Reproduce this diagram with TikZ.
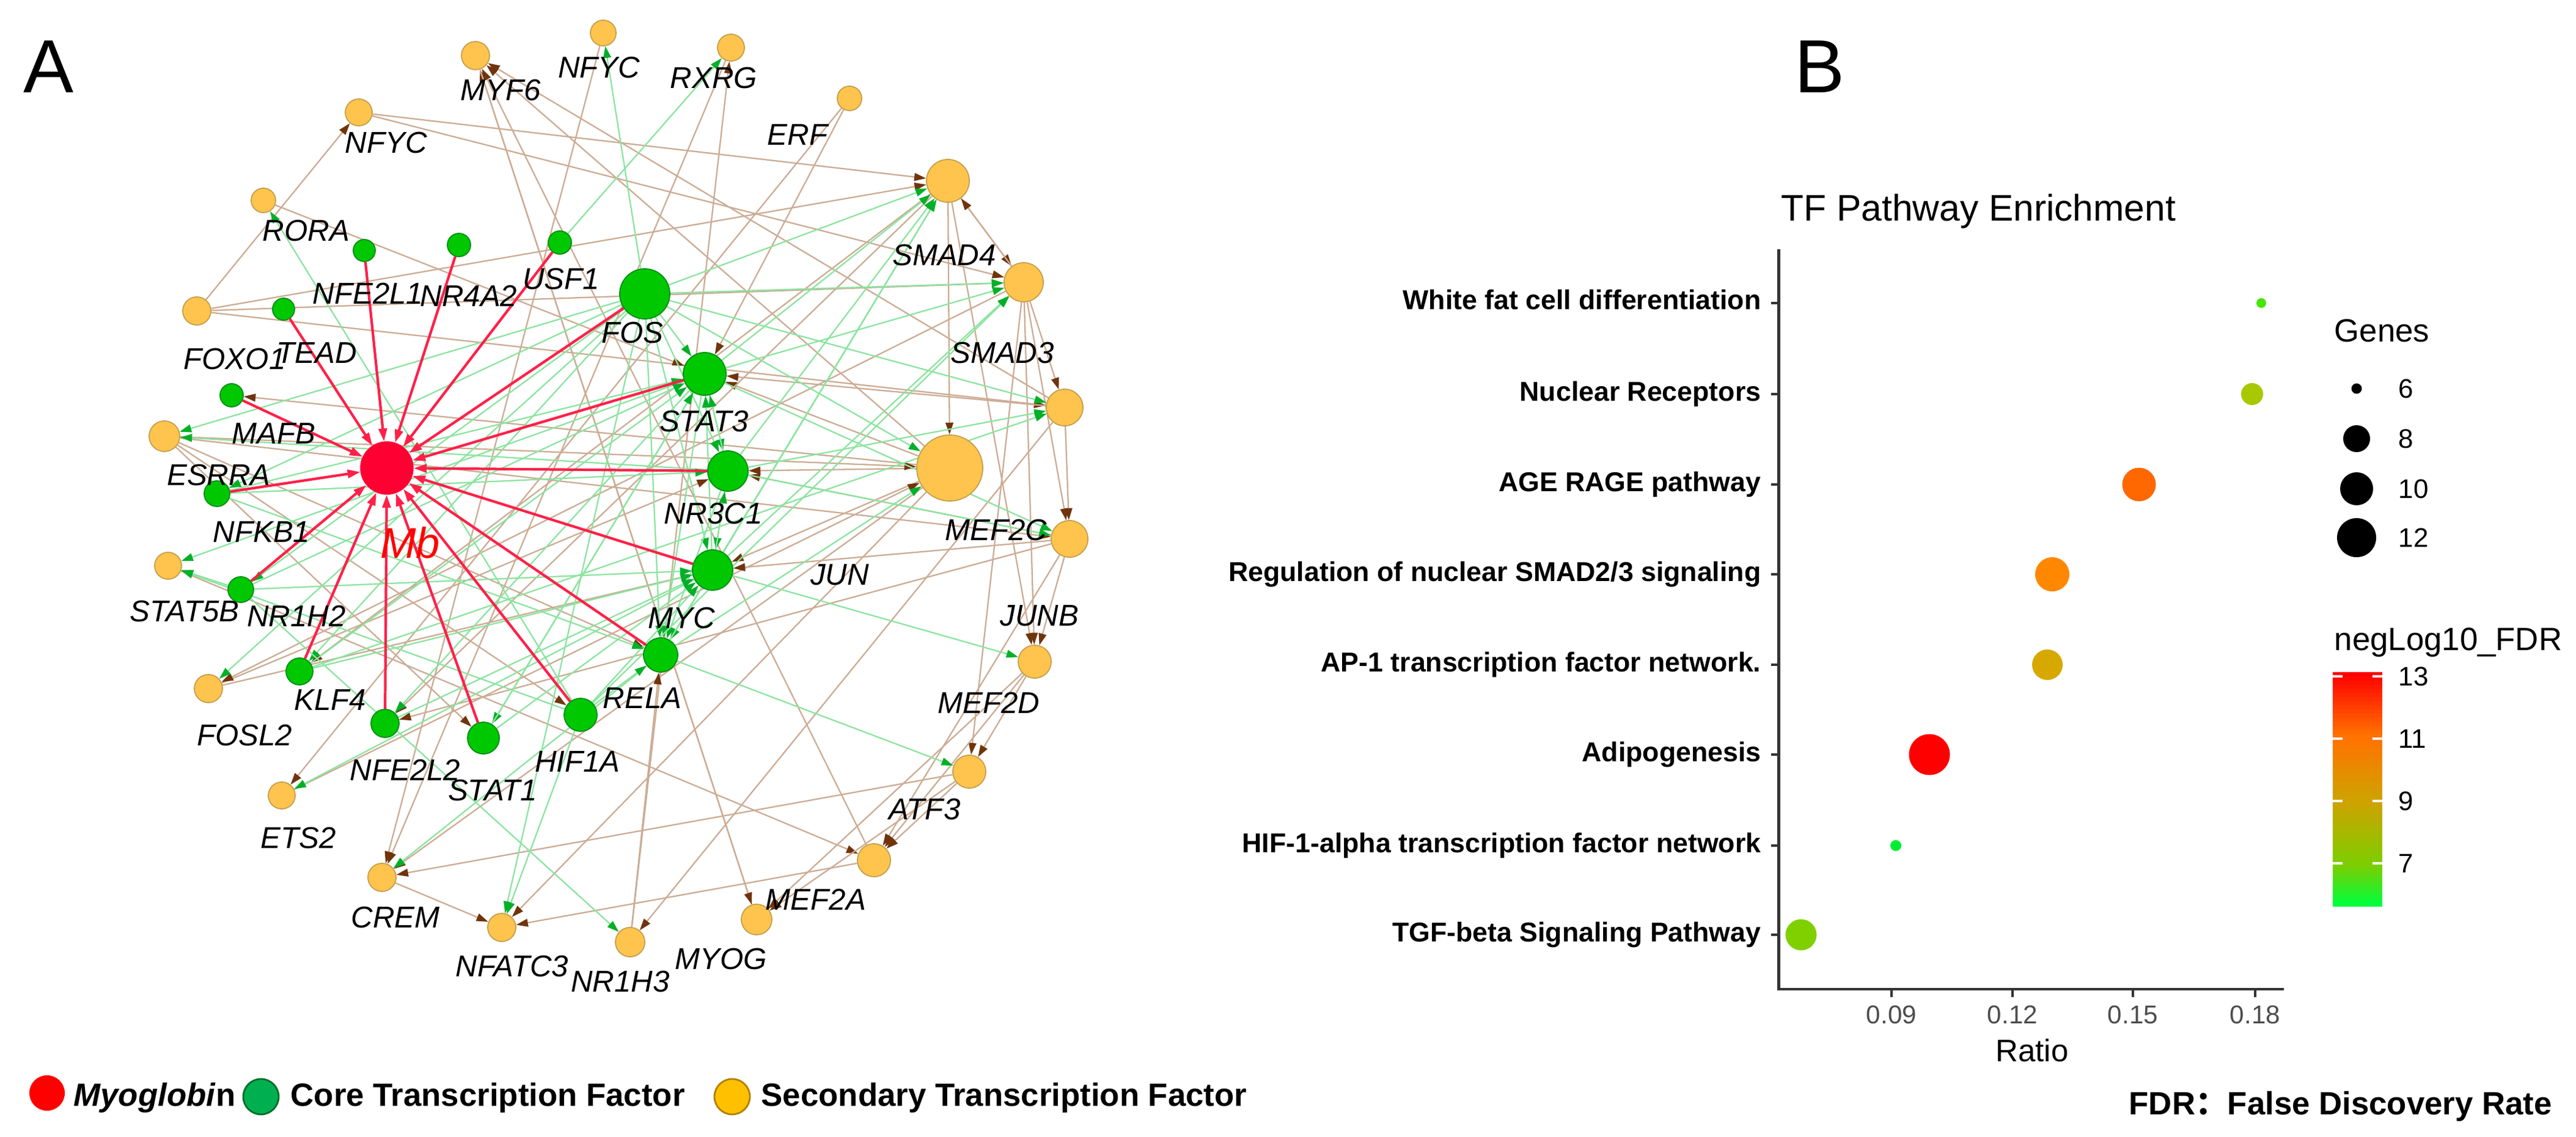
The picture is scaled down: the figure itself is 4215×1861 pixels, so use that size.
\documentclass[tikz,border=0pt]{standalone}
\usepackage{fontspec}
\setmainfont{Liberation Sans}
\newfontfamily\cjk{Noto Sans CJK SC}
\usetikzlibrary{arrows.meta,backgrounds}
\definecolor{ofill}{RGB}{255,196,77}
\definecolor{oborder}{RGB}{196,158,74}
\definecolor{gfill}{RGB}{0,200,0}
\definecolor{gborder}{RGB}{0,140,20}
\definecolor{mbred}{RGB}{255,0,51}
\definecolor{ebrown}{RGB}{204,172,148}
\definecolor{tbrown}{RGB}{112,52,12}
\definecolor{egreen}{RGB}{140,228,160}
\definecolor{tgreen}{RGB}{0,176,40}
\definecolor{ered}{RGB}{255,32,72}
\definecolor{axisgrey}{RGB}{51,51,51}
\definecolor{tickgrey}{RGB}{77,77,77}
\definecolor{legred}{RGB}{255,0,0}
\definecolor{leggreen}{RGB}{0,176,80}
\definecolor{leggreenb}{RGB}{0,110,40}
\definecolor{legyel}{RGB}{255,192,0}
\definecolor{legyelb}{RGB}{176,128,0}
\definecolor{cbA}{RGB}{255,0,0}
\definecolor{cbB}{RGB}{255,115,0}
\definecolor{cbC}{RGB}{207,162,0}
\definecolor{cbD}{RGB}{128,204,0}
\definecolor{cbE}{RGB}{0,255,60}
\definecolor{dwf}{RGB}{70,230,0}
\definecolor{dnr}{RGB}{168,200,0}
\definecolor{dage}{RGB}{255,104,0}
\definecolor{dsmad}{RGB}{255,136,0}
\definecolor{dap}{RGB}{214,168,0}
\definecolor{dadi}{RGB}{255,0,0}
\definecolor{dhif}{RGB}{0,238,50}
\definecolor{dtgf}{RGB}{128,208,0}
\newcommand{\cbseg}[4]{%
  \foreach \i in {0,...,15}{%
    \pgfmathtruncatemacro{\cbp}{100-\i*100/15}%
    \pgfmathsetmacro{\cbya}{#1+(#2-#1)*\i/16}%
    \pgfmathsetmacro{\cbyb}{#1+(#2-#1)*(\i+1)/16+1}%
    \fill[#3!\cbp!#4] (3817,\cbya) rectangle (3898,\cbyb);%
  }}
\begin{document}
\begin{tikzpicture}[x=0.01cm,y=-0.01cm,
  gn/.style={circle, inner sep=0pt, minimum size={#1*0.2mm}, fill=gfill, draw=gborder, line width=0.5pt},
  on/.style={circle, inner sep=0pt, minimum size={#1*0.2mm}, fill=ofill, draw=oborder, line width=0.5pt},
  mbnode/.style={circle, inner sep=0pt, minimum size=8.6mm, fill=mbred, draw=mbred, line width=0.4pt},
  lab/.style={font=\fontsize{14}{16}\selectfont\itshape, inner sep=0pt},
  be/.style={draw=ebrown, line width=0.65pt, -{Triangle[length=5.5pt,width=3.6pt,color=tbrown]}},
  ge/.style={draw=egreen, line width=0.65pt, -{Triangle[length=5.5pt,width=3.6pt,color=tgreen]}},
  re/.style={draw=ered, line width=1.2pt, -{Triangle[length=6pt,width=3.8pt,color=ered]}},
  cat/.style={font=\fontsize{12.7}{15}\selectfont\bfseries, inner sep=0pt, anchor=base east},
  tick/.style={font=\fontsize{12}{14}\selectfont, text=tickgrey, inner sep=0pt, anchor=north},
  leg/.style={font=\fontsize{12.5}{14}\selectfont, inner sep=0pt, anchor=west},
  axis/.style={draw=axisgrey, line width=1.4pt},
  legt/.style={font=\fontsize{15}{18}\selectfont\bfseries, inner sep=0pt, anchor=base west}
]
\useasboundingbox (0,0) rectangle (4215,1861);

% ---------- Panel A: nodes ----------
% core transcription factors
\node[gn=18] (tead) at (464,506) {};
\node[gn=18] (nfe2l1) at (596,410) {};
\node[gn=19] (nr4a2) at (751,401) {};
\node[gn=19] (usf1) at (916,397) {};
\node[gn=41] (fos) at (1055,481) {};
\node[gn=35] (stat3) at (1153,612) {};
\node[gn=33] (nr3c1) at (1191,771) {};
\node[gn=33] (myc) at (1166,933) {};
\node[gn=28] (rela) at (1081,1072) {};
\node[gn=27] (hif1a) at (950,1170) {};
\node[gn=26] (stat1) at (791,1208) {};
\node[gn=23] (nfe2l2) at (630,1184) {};
\node[gn=22] (klf4) at (490,1099) {};
\node[gn=21] (nr1h2) at (394,965) {};
\node[gn=21] (nfkb1) at (355,808) {};
\node[gn=19] (mafb) at (379,647) {};
% myoglobin
\node[mbnode] (mb) at (633,766) {};
% secondary transcription factors
\node[on=22] (nfycl) at (587,184) {};
\node[on=20] (rora) at (431,328) {};
\node[on=23] (foxo1) at (322,509) {};
\node[on=25] (esrra) at (269,714) {};
\node[on=22] (stat5b) at (275,926) {};
\node[on=23] (fosl2) at (341,1127) {};
\node[on=22] (ets2) at (461,1302) {};
\node[on=23] (crem) at (625,1436) {};
\node[on=23] (nfatc3) at (821,1518) {};
\node[on=24] (nr1h3) at (1031,1542) {};
\node[on=25] (myog) at (1238,1505) {};
\node[on=27] (mef2a) at (1430,1408) {};
\node[on=27] (atf3) at (1586,1263) {};
\node[on=27] (mef2d) at (1693,1083) {};
\node[on=30] (junb) at (1750,882) {};
\node[on=54] (mef2c) at (1554,766) {};
\node[on=30] (ra) at (1742,667) {};
\node[on=32] (smad3) at (1675,462) {};
\node[on=35] (smad4) at (1551,296) {};
\node[on=20] (erf) at (1390,161) {};
\node[on=22] (rxrg) at (1196,78) {};
\node[on=21] (nfyct) at (987,54) {};
\node[on=23] (myf6) at (778,91) {};

% ---------- Panel A: edges ----------
\begin{pgfonlayer}{background}
\fill[white] (0,0) rectangle (4215,1861);
\foreach \a/\b in {foxo1/nfycl, foxo1/smad4, foxo1/smad3, foxo1/ra,
  nfycl/smad4, nfycl/smad3, rora/stat3,
  mef2c/mafb, mef2c/nr3c1, mef2c/myf6, mef2c/nfatc3, mef2c/stat3, mef2c/crem, mef2c/myc,
  ra/myf6, ra/nr1h3, ra/stat3, ra/junb,
  myog/myf6, mef2a/myf6, myf6/myog,
  erf/stat3, erf/ets2, nr1h3/rxrg, nr1h3/rela,
  esrra/mef2c, esrra/junb, esrra/hif1a, esrra/rela, esrra/stat1,
  fosl2/myc, fosl2/nr3c1, ets2/mef2c, atf3/crem, crem/nfatc3,
  rxrg/crem, nfyct/crem, stat5b/mef2a,
  smad4/smad3, smad3/smad4, smad4/mef2c, smad4/mef2d, smad4/klf4, smad4/nfe2l2,
  smad3/junb, smad3/atf3, smad3/mef2d, smad3/fosl2, smad3/ra,
  junb/mef2d, junb/nr3c1, junb/myc, junb/nfe2l2, junb/mef2a,
  mef2d/atf3, mef2d/myog, mef2d/mef2a, atf3/mef2a, atf3/myog, mef2a/nfatc3}
  \draw[be] (\a) -- (\b);
\foreach \a/\b in {fos/nfyct, usf1/rxrg, fos/stat3, fos/smad4, fos/smad3, fos/mef2c, fos/ra,
  fos/fosl2, fos/nfatc3, fos/rela, fos/esrra, fos/myc, fos/nr3c1, fos/nfkb1, fos/nr1h2, fos/klf4,
  stat3/nr3c1, nr3c1/stat3, stat3/stat5b, stat3/stat1, stat3/rela, stat3/smad4, stat3/smad3,
  stat3/nfe2l2, stat3/junb, nr3c1/myc, myc/nr3c1, nr3c1/rela, nr3c1/smad4, nr3c1/ra, nr3c1/esrra,
  nr3c1/junb, myc/rela, myc/smad4, myc/smad3, myc/ets2, myc/mef2d, myc/stat3,
  rela/smad4, rela/mef2c, rela/crem, rela/atf3,
  hif1a/rora, hif1a/smad3, hif1a/myc, hif1a/rela, hif1a/nfatc3, hif1a/stat5b,
  nfkb1/rela, nfkb1/nr3c1, nfkb1/stat3, nr1h2/stat5b, nr1h2/nr1h3, nr1h2/myc, nr1h2/stat3,
  nfe2l2/myc, klf4/myc, klf4/stat3, klf4/ra, stat1/stat3, stat1/myc}
  \draw[ge] (\a) -- (\b);
\foreach \s in {tead,nfe2l1,nr4a2,usf1,fos,stat3,nr3c1,myc,rela,hif1a,stat1,nfe2l2,klf4,nr1h2,nfkb1,mafb}
  \draw[re] (\s) -- (mb);
\end{pgfonlayer}

% ---------- Panel A: labels ----------
\node[lab] (ltead) at (518,578) {TEAD};
\node[lab] (lnfe2l1) at (602,480) {NFE2L1};
\node[lab] (lnr4a2) at (767,484) {NR4A2};
\node[lab] (lusf1) at (918,457) {USF1};
\node[lab] (lfos) at (1035,545) {FOS};
\node[lab] (lstat3) at (1152,690) {STAT3};
\node[lab] (lnr3c1) at (1167,841) {NR3C1};
\node[lab] (lmyc) at (1115,1012) {MYC};
\node[lab] (lrela) at (1051,1143) {RELA};
\node[lab] (lhif1a) at (945,1247) {HIF1A};
\node[lab] (lstat1) at (806,1294) {STAT1};
\node[lab] (lnfe2l2) at (663,1260) {NFE2L2};
\node[lab] (lklf4) at (540,1146) {KLF4};
\node[lab] (lnr1h2) at (485,1008) {NR1H2};
\node[lab] (lnfkb1) at (428,871) {NFKB1};
\node[lab] (lmafb) at (448,710) {MAFB};
\node[lab] (lnfycl) at (632,234) {NFYC};
\node[lab] (lrora) at (501,378) {RORA};
\node[lab] (lfoxo1) at (384,588) {FOXO1};
\node[lab] (lesrra) at (358,778) {ESRRA};
\node[lab] (lstat5b) at (302,1001) {STAT5B};
\node[lab] (lfosl2) at (400,1204) {FOSL2};
\node[lab] (lets2) at (488,1372) {ETS2};
\node[lab] (lcrem) at (647,1502) {CREM};
\node[lab] (lnfatc3) at (838,1582) {NFATC3};
\node[lab] (lnr1h3) at (1015,1607) {NR1H3};
\node[lab] (lmyog) at (1180,1570) {MYOG};
\node[lab] (lmef2a) at (1335,1472) {MEF2A};
\node[lab] (latf3) at (1513,1325) {ATF3};
\node[lab] (lmef2d) at (1618,1150) {MEF2D};
\node[lab] (ljunb) at (1701,1008) {JUNB};
\node[lab] (ljun) at (1374,941) {JUN};
\node[lab] (lmef2c) at (1630,868) {MEF2C};
\node[lab] (lsmad3) at (1640,578) {SMAD3};
\node[lab] (lsmad4) at (1545,418) {SMAD4};
\node[lab] (lerf) at (1305,221) {ERF};
\node[lab] (lrxrg) at (1168,128) {RXRG};
\node[lab] (lnfyct) at (980,111) {NFYC};
\node[lab] (lmyf6) at (819,148) {MYF6};
\node[font=\fontsize{20}{24}\selectfont\itshape, text=red, inner sep=0pt] (lmb) at (671,888) {Mb};

% panel letters
\node[font=\fontsize{35}{40}\selectfont, inner sep=0pt] (pA) at (80,109) {A};
\node[font=\fontsize{35}{40}\selectfont, inner sep=0pt] (pB) at (2978,109) {B};

% ---------- Panel A: legend ----------
\node[circle, inner sep=0pt, minimum size=5.8mm, fill=legred] (kmb) at (77,1789) {};
\node[legt] (tmb) at (120,1810) {\textit{Myoglobi}n};
\node[circle, inner sep=0pt, minimum size=5.8mm, fill=leggreen, draw=leggreenb, line width=0.8pt] (kcore) at (427,1795) {};
\node[legt] (tcore) at (475,1810) {Core Transcription Factor};
\node[circle, inner sep=0pt, minimum size=5.8mm, fill=legyel, draw=legyelb, line width=0.8pt] (ksec) at (1198,1795) {};
\node[legt] (tsec) at (1245,1810) {Secondary Transcription Factor};

% ---------- Panel B ----------
\node[font=\fontsize{17.2}{20}\selectfont, inner sep=0pt, anchor=base west] (btitle) at (2914,362) {TF Pathway Enrichment};
\draw[axis] (2910,408) -- (2910,1619) -- (3737,1619);
\foreach \y in {496,645,793,940,1088,1235,1384,1530}
  \draw[axis, line width=1pt] (2898,\y) -- (2910,\y);
\foreach \x in {3095,3293,3490,3690}
  \draw[axis, line width=1pt] (\x,1619) -- (\x,1632);
\node[cat] (c1) at (2882,507) {White fat cell differentiation};
\node[cat] (c2) at (2882,656) {Nuclear Receptors};
\node[cat] (c3) at (2882,804) {AGE RAGE pathway};
\node[cat] (c4) at (2882,951) {Regulation of nuclear SMAD2/3 signaling};
\node[cat] (c5) at (2882,1099) {AP-1 transcription factor network.};
\node[cat] (c6) at (2882,1246) {Adipogenesis};
\node[cat] (c7) at (2882,1395) {HIF-1-alpha transcription factor network};
\node[cat] (c8) at (2882,1541) {TGF-beta Signaling Pathway};
\node[tick] (t1) at (3095,1645) {0.09};
\node[tick] (t2) at (3293,1645) {0.12};
\node[tick] (t3) at (3490,1645) {0.15};
\node[tick] (t4) at (3690,1645) {0.18};
\node[font=\fontsize{14.5}{17}\selectfont, inner sep=0pt, anchor=base] (xlab) at (3325,1737) {Ratio};
% data points
\fill[dwf] (3700,496) circle (8);
\fill[dnr] (3685,645) circle (18);
\fill[dage] (3500,793) circle (27.5);
\fill[dsmad] (3358,940) circle (28);
\fill[dap] (3350,1088) circle (25);
\fill[dadi] (3157,1235) circle (33.5);
\fill[dhif] (3102,1384) circle (9);
\fill[dtgf] (2947,1530) circle (25.5);
% size legend
\node[font=\fontsize{15}{18}\selectfont, inner sep=0pt, anchor=base west] (gt) at (3819,560) {Genes};
\fill[black] (3856,636) circle (8.5);
\fill[black] (3856,718) circle (22);
\fill[black] (3856,800) circle (27);
\fill[black] (3856,880) circle (32);
\node[leg] (g6) at (3924,636) {6};
\node[leg] (g8) at (3924,718) {8};
\node[leg] (g10) at (3924,800) {10};
\node[leg] (g12) at (3924,880) {12};
% colour bar
\node[font=\fontsize{15}{18}\selectfont, inner sep=0pt, anchor=base west] (ct) at (3819,1064) {negLog10\_FDR};
\cbseg{1100}{1209}{cbA}{cbB}
\cbseg{1209}{1311}{cbB}{cbC}
\cbseg{1311}{1413}{cbC}{cbD}
\cbseg{1413}{1483}{cbD}{cbE}
\foreach \y in {1107,1209,1311,1413}{
  \draw[white, line width=1pt] (3817,\y) -- (3833,\y);
  \draw[white, line width=1pt] (3882,\y) -- (3898,\y);
}
\node[leg] (v13) at (3924,1107) {13};
\node[leg] (v11) at (3924,1209) {11};
\node[leg] (v9) at (3924,1311) {9};
\node[leg] (v7) at (3924,1413) {7};
\node[legt] (fdr) at (3483,1824) {FDR{\cjk ：}False Discovery Rate};
\end{tikzpicture}
\end{document}
